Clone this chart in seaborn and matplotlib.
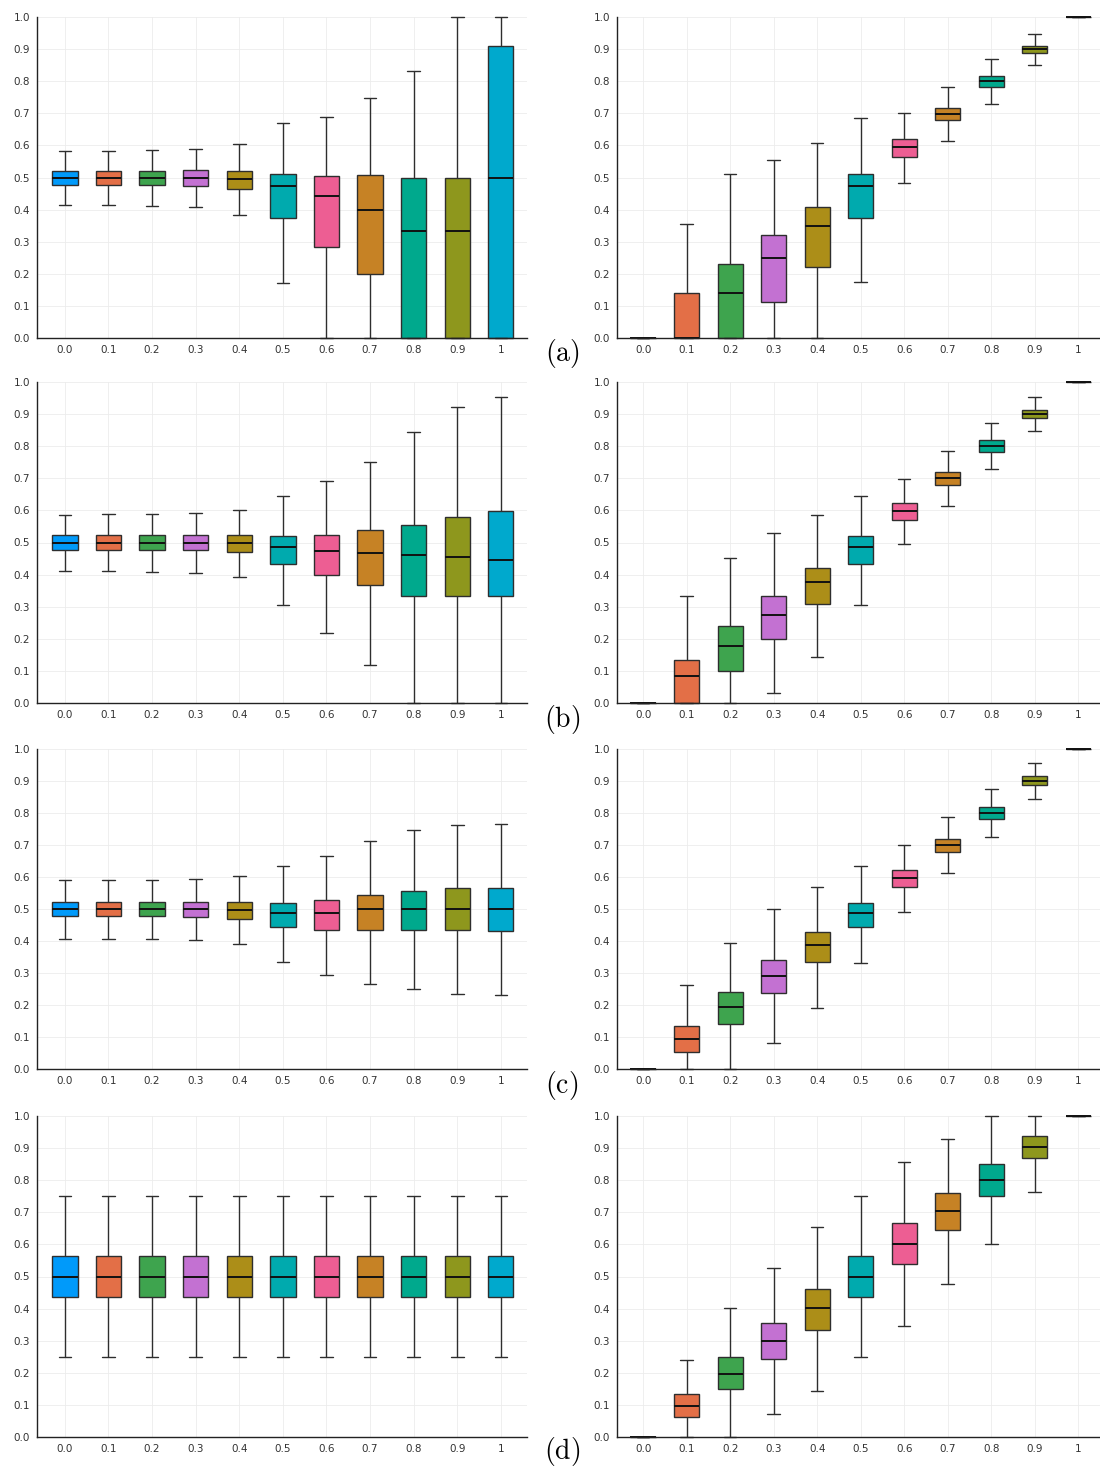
import numpy as np
import pandas as pd
import matplotlib
matplotlib.use("Agg")
import matplotlib.pyplot as plt
import seaborn as sns

# Category labels along each x axis
categories = ["0.0", "0.1", "0.2", "0.3", "0.4", "0.5", "0.6", "0.7", "0.8", "0.9", "1"]

# One colour per category
palette = ["#009AFA", "#E36F47", "#3EA44E", "#C371D2", "#AC8E18", "#00AAAE",
           "#ED5E93", "#C68225", "#00A98D", "#8E971D", "#00A9CD"]

# Five-number summaries per category: [whisker low, Q1, median, Q3, whisker high]
a_left = [
    [0.415, 0.478, 0.500, 0.521, 0.583],
    [0.414, 0.478, 0.500, 0.521, 0.584],
    [0.411, 0.477, 0.500, 0.521, 0.586],
    [0.407, 0.475, 0.500, 0.522, 0.590],
    [0.383, 0.465, 0.495, 0.520, 0.604],
    [0.172, 0.374, 0.475, 0.512, 0.669],
    [0.000, 0.285, 0.443, 0.506, 0.689],
    [0.000, 0.199, 0.400, 0.508, 0.749],
    [0.000, 0.000, 0.333, 0.500, 0.832],
    [0.000, 0.000, 0.333, 0.500, 1.000],
    [0.000, 0.000, 0.500, 0.909, 1.000],
]
a_right = [
    [0.000, 0.000, 0.000, 0.000, 0.000],
    [0.000, 0.000, 0.000, 0.141, 0.354],
    [0.000, 0.000, 0.141, 0.230, 0.511],
    [0.000, 0.111, 0.250, 0.321, 0.555],
    [0.000, 0.222, 0.349, 0.407, 0.607],
    [0.173, 0.374, 0.475, 0.512, 0.686],
    [0.482, 0.565, 0.595, 0.619, 0.701],
    [0.614, 0.678, 0.698, 0.718, 0.781],
    [0.728, 0.781, 0.800, 0.816, 0.869],
    [0.849, 0.887, 0.899, 0.911, 0.948],
    [1.000, 1.000, 1.000, 1.000, 1.000],
]
b_left = [
    [0.412, 0.478, 0.500, 0.522, 0.587],
    [0.410, 0.478, 0.500, 0.522, 0.588],
    [0.409, 0.477, 0.500, 0.523, 0.589],
    [0.406, 0.476, 0.500, 0.523, 0.592],
    [0.393, 0.470, 0.498, 0.523, 0.600],
    [0.305, 0.434, 0.485, 0.519, 0.645],
    [0.219, 0.400, 0.474, 0.522, 0.692],
    [0.117, 0.368, 0.468, 0.538, 0.751],
    [0.000, 0.333, 0.461, 0.556, 0.843],
    [0.000, 0.333, 0.454, 0.579, 0.923],
    [0.000, 0.333, 0.444, 0.599, 0.954],
]
b_right = [
    [0.000, 0.000, 0.000, 0.000, 0.000],
    [0.000, 0.000, 0.084, 0.133, 0.333],
    [0.000, 0.100, 0.177, 0.241, 0.453],
    [0.030, 0.200, 0.275, 0.332, 0.530],
    [0.142, 0.308, 0.376, 0.422, 0.587],
    [0.305, 0.433, 0.485, 0.519, 0.646],
    [0.495, 0.571, 0.598, 0.622, 0.698],
    [0.615, 0.679, 0.701, 0.721, 0.785],
    [0.728, 0.782, 0.800, 0.818, 0.872],
    [0.846, 0.888, 0.901, 0.914, 0.954],
    [1.000, 1.000, 1.000, 1.000, 1.000],
]
c_left = [
    [0.407, 0.477, 0.500, 0.522, 0.592],
    [0.406, 0.477, 0.500, 0.522, 0.592],
    [0.406, 0.477, 0.500, 0.522, 0.592],
    [0.404, 0.475, 0.500, 0.522, 0.594],
    [0.390, 0.469, 0.497, 0.522, 0.602],
    [0.333, 0.444, 0.488, 0.519, 0.633],
    [0.295, 0.434, 0.488, 0.527, 0.667],
    [0.266, 0.433, 0.500, 0.544, 0.713],
    [0.250, 0.433, 0.500, 0.557, 0.746],
    [0.235, 0.433, 0.500, 0.565, 0.761],
    [0.232, 0.432, 0.500, 0.567, 0.766],
]
c_right = [
    [0.000, 0.000, 0.000, 0.000, 0.000],
    [0.000, 0.052, 0.094, 0.135, 0.261],
    [0.000, 0.142, 0.193, 0.242, 0.393],
    [0.080, 0.238, 0.291, 0.341, 0.499],
    [0.192, 0.333, 0.386, 0.427, 0.569],
    [0.330, 0.443, 0.488, 0.519, 0.633],
    [0.491, 0.570, 0.598, 0.622, 0.701],
    [0.611, 0.678, 0.700, 0.720, 0.786],
    [0.725, 0.781, 0.800, 0.818, 0.874],
    [0.845, 0.888, 0.900, 0.915, 0.955],
    [1.000, 1.000, 1.000, 1.000, 1.000],
]
d_left = [[0.250, 0.4375, 0.500, 0.5625, 0.750] for _ in categories]
d_right = [
    [0.000, 0.000, 0.000, 0.000, 0.000],
    [0.000, 0.062, 0.098, 0.134, 0.239],
    [0.000, 0.148, 0.195, 0.250, 0.401],
    [0.073, 0.243, 0.298, 0.355, 0.525],
    [0.143, 0.334, 0.401, 0.462, 0.654],
    [0.250, 0.4375, 0.500, 0.5625, 0.750],
    [0.347, 0.539, 0.601, 0.667, 0.858],
    [0.476, 0.646, 0.703, 0.759, 0.929],
    [0.601, 0.752, 0.801, 0.852, 1.000],
    [0.762, 0.868, 0.903, 0.939, 1.000],
    [1.000, 1.000, 1.000, 1.000, 1.000],
]

panel_labels = ["(a)", "(b)", "(c)", "(d)"]
rows = [(a_left, a_right), (b_left, b_right), (c_left, c_right), (d_left, d_right)]


def to_long(summary):
    # Five points per category reproduce the quartiles exactly under linear interpolation
    recs = []
    for cat, vals in zip(categories, summary):
        for v in vals:
            recs.append({"category": cat, "value": v})
    return pd.DataFrame(recs)


sns.set_theme(style="white")
plt.rcParams["mathtext.fontset"] = "cm"
plt.rcParams["font.family"] = ["DejaVu Sans"]

W, H = 1100, 1468
fig = plt.figure(figsize=(W / 100, H / 100), dpi=100)

row_px = [(17, 338), (382, 703), (749, 1069), (1116, 1437)]
col_px = [(37, 527, (-0.64, 10.6)), (617, 1100, (-0.6, 10.5))]
label_y = [354, 719, 1085, 1451]

for r, (pair, (top, bot)) in enumerate(zip(rows, row_px)):
    for c, summary in enumerate(pair):
        x0, x1, xl = col_px[c]
        ax = fig.add_axes([x0 / W, 1 - bot / H, (x1 - x0) / W, (bot - top) / H])
        df = to_long(summary)
        sns.boxplot(data=df, x="category", y="value", hue="category",
                    order=categories, hue_order=categories, palette=palette,
                    saturation=1, legend=False, whis=(0, 100), width=0.58,
                    linecolor="#2e2e2e", linewidth=1.0, fliersize=0,
                    medianprops={"linewidth": 1.4, "color": "#111111"},
                    ax=ax)
        for art in list(ax.patches) + list(ax.lines):
            art.set_clip_on(False)
        ax.set_xlim(*xl)
        ax.set_ylim(0, 1)
        ax.set_yticks(np.arange(0, 1.01, 0.1))
        ax.set_yticklabels([f"{t:.1f}" for t in np.arange(0, 1.01, 0.1)])
        ax.set_xlabel("")
        ax.set_ylabel("")
        ax.grid(True, color="#ececec", linewidth=0.6)
        ax.set_axisbelow(True)
        for s in ["top", "right"]:
            ax.spines[s].set_visible(False)
        for s in ["left", "bottom"]:
            ax.spines[s].set_color("#222222")
            ax.spines[s].set_linewidth(1.0)
        ax.tick_params(axis="both", direction="in", length=3.5, width=0.8,
                       color="#222222", labelsize=7.5, labelcolor="#333333", pad=5)
    fig.text(562 / W, 1 - label_y[r] / H, r"$\mathrm{" + panel_labels[r] + "}$",
             fontsize=20, ha="center", va="center", color="black")

fig.savefig("out.png", dpi=100)
